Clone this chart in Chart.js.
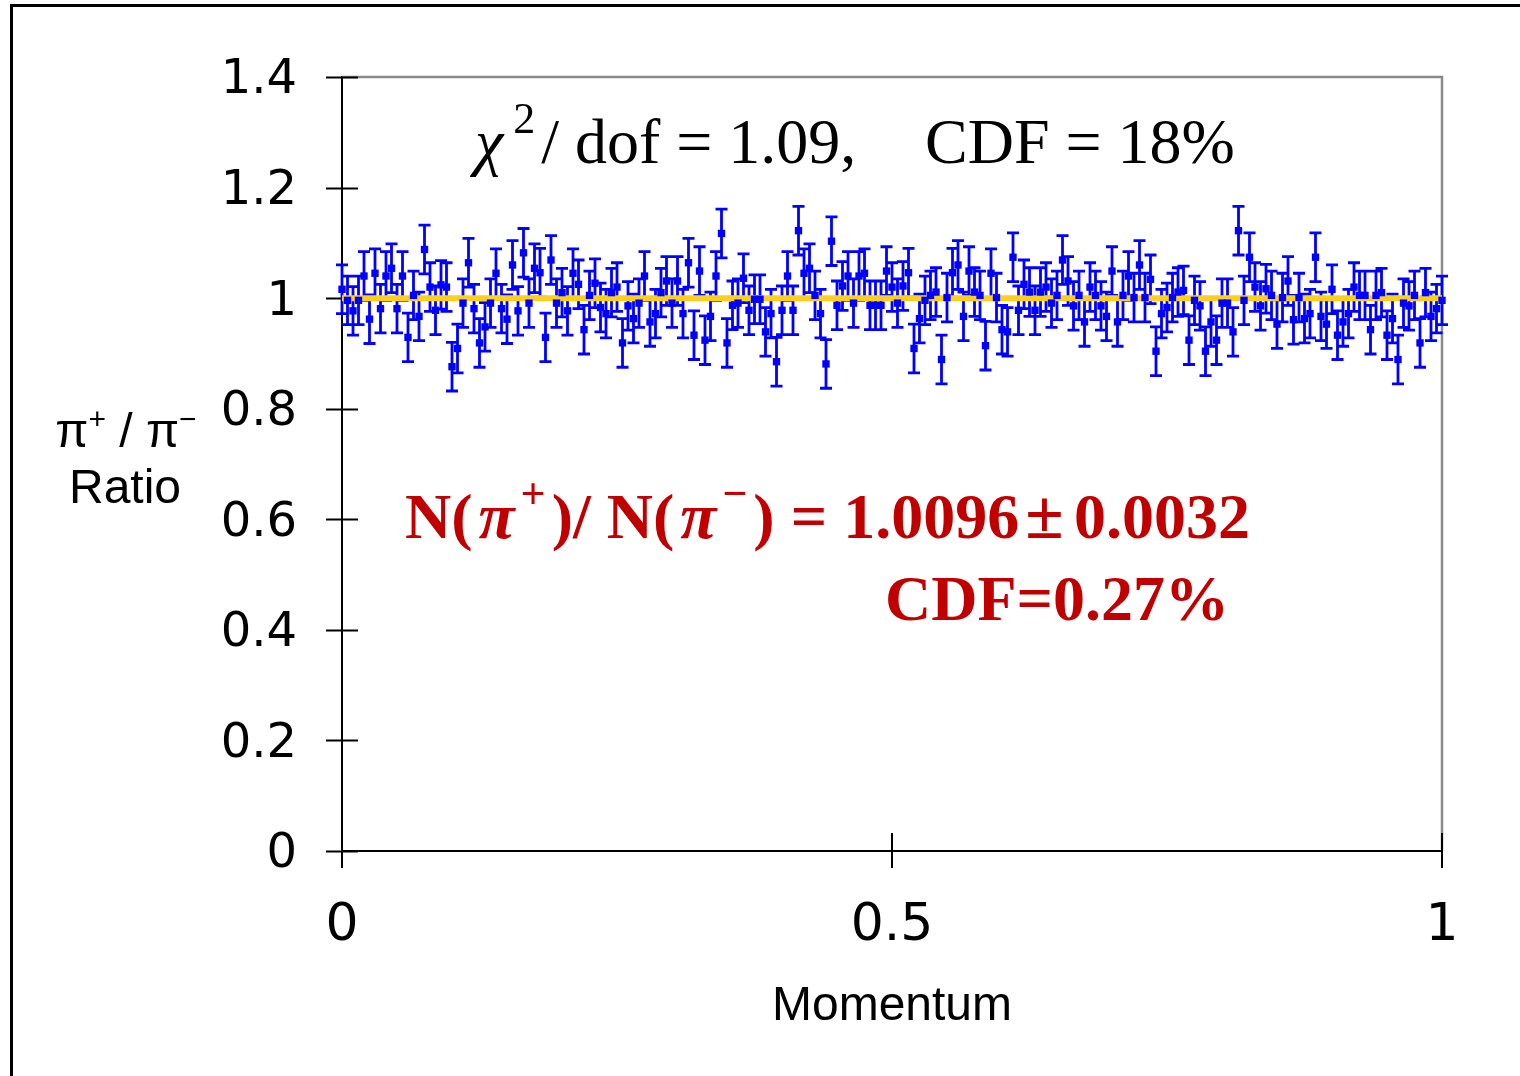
<!DOCTYPE html>
<html>
<head>
<meta charset="utf-8">
<title>Ratio π+ / π−</title>
<script src="https://cdn.jsdelivr.net/npm/chart.js@4.4.1/dist/chart.umd.min.js"></script>
<style>
  body { margin: 0; background: #ffffff; }
  canvas { display: block; }
</style>
</head>
<body>
<canvas id="myChart" width="1520" height="1076"></canvas>
<script>
//DADES
// momentum bins
let momentum = [
  0, 0.005, 0.01, 0.015, 0.02, 0.025, 0.03, 0.035, 0.04, 0.045,
  0.05, 0.055, 0.06, 0.065, 0.07, 0.075, 0.08, 0.085, 0.09, 0.095,
  0.1, 0.105, 0.11, 0.115, 0.12, 0.125, 0.13, 0.135, 0.14, 0.145,
  0.15, 0.155, 0.16, 0.165, 0.17, 0.175, 0.18, 0.185, 0.19, 0.195,
  0.2, 0.205, 0.21, 0.215, 0.22, 0.225, 0.23, 0.235, 0.24, 0.245,
  0.25, 0.255, 0.26, 0.265, 0.27, 0.275, 0.28, 0.285, 0.29, 0.295,
  0.3, 0.305, 0.31, 0.315, 0.32, 0.325, 0.33, 0.335, 0.34, 0.345,
  0.35, 0.355, 0.36, 0.365, 0.37, 0.375, 0.38, 0.385, 0.39, 0.395,
  0.4, 0.405, 0.41, 0.415, 0.42, 0.425, 0.43, 0.435, 0.44, 0.445,
  0.45, 0.455, 0.46, 0.465, 0.47, 0.475, 0.48, 0.485, 0.49, 0.495,
  0.5, 0.505, 0.51, 0.515, 0.52, 0.525, 0.53, 0.535, 0.54, 0.545,
  0.55, 0.555, 0.56, 0.565, 0.57, 0.575, 0.58, 0.585, 0.59, 0.595,
  0.6, 0.605, 0.61, 0.615, 0.62, 0.625, 0.63, 0.635, 0.64, 0.645,
  0.65, 0.655, 0.66, 0.665, 0.67, 0.675, 0.68, 0.685, 0.69, 0.695,
  0.7, 0.705, 0.71, 0.715, 0.72, 0.725, 0.73, 0.735, 0.74, 0.745,
  0.75, 0.755, 0.76, 0.765, 0.77, 0.775, 0.78, 0.785, 0.79, 0.795,
  0.8, 0.805, 0.81, 0.815, 0.82, 0.825, 0.83, 0.835, 0.84, 0.845,
  0.85, 0.855, 0.86, 0.865, 0.87, 0.875, 0.88, 0.885, 0.89, 0.895,
  0.9, 0.905, 0.91, 0.915, 0.92, 0.925, 0.93, 0.935, 0.94, 0.945,
  0.95, 0.955, 0.96, 0.965, 0.97, 0.975, 0.98, 0.985, 0.99, 0.995,
  1
];
// ratio pi+/pi- in each bin
let ratio = [
  1.016, 0.996, 0.977, 0.996, 1.040, 0.962, 1.045, 0.981, 1.040, 1.054,
  0.981, 1.040, 0.929, 1.005, 0.967, 1.088, 1.020, 0.978, 1.024, 1.020,
  0.876, 0.909, 0.991, 1.064, 0.981, 0.919, 0.948, 0.991, 1.045, 0.981,
  0.962, 1.060, 0.977, 1.082,
  0.991, 1.054, 1.046, 0.929, 1.069, 0.991, 1.010, 0.977, 1.045, 1.025,
  0.943, 1.005, 1.027, 0.983, 0.972, 1.010, 1.020, 0.919, 0.986, 0.963,
  0.991, 1.040, 0.957, 0.972, 1.010, 1.031, 0.991, 1.031, 0.972, 1.064,
  0.933, 1.049, 0.924, 0.967,
  1.040, 1.117, 0.919, 0.987, 0.991, 1.036, 0.978, 0.998, 0.998, 0.939,
  0.972, 0.885, 0.978, 1.040, 0.978, 1.122, 1.045, 1.054, 1.005, 0.972,
  0.881, 1.103, 0.987, 1.022, 1.040, 0.991, 1.040, 1.045, 0.987, 0.987,
  0.987, 1.049, 1.020, 0.991,
  1.022, 1.046, 0.909, 0.963, 0.996, 1.005, 1.011, 0.889, 1.001, 1.046,
  1.060, 0.967, 1.049, 1.011, 1.005, 0.914, 1.045, 1.001, 0.943, 0.939,
  1.074, 0.978, 1.025, 1.011, 0.978, 1.011, 1.020, 0.991, 1.005, 1.069,
  1.031, 0.986, 1.005,
  0.957, 1.020, 1.005, 0.986, 0.967, 1.049, 0.957, 1.005, 1.040, 1.001,
  1.060, 1.001, 1.034, 0.904, 0.972, 0.983, 1.001, 1.011, 1.014, 0.924,
  0.996, 0.986, 0.904, 0.957, 0.924, 0.991, 0.991, 0.939, 1.122, 0.996,
  1.074, 1.020, 0.986,
  1.017, 1.005, 0.953, 1.001, 1.031, 0.961, 1.001, 0.963, 0.972, 1.074,
  0.967, 0.953, 1.016, 0.933, 0.957, 0.972, 1.020, 1.005, 1.005, 0.943,
  1.005, 1.010, 0.933, 0.963, 0.889, 0.991, 0.986, 1.005, 0.919, 1.010,
  0.967, 0.981, 0.996
];
// statistical error of each point (all bins about the same)
let ratioError = 0.044;
// line at ratio = 1
let refX = [0, 1];
let refY = [1, 1];
// axes
let xTicks = [0, 0.5, 1];
let xTickLabels = ["0", "0.5", "1"];
let yTicks = [0, 0.2, 0.4, 0.6, 0.8, 1, 1.2, 1.4];
let yTickLabels = ["0", "0.2", "0.4", "0.6", "0.8", "1", "1.2", "1.4"];

//COLORS I FONTS
const blue = "#0000ff";
const gold = "#ffcf1f";
const red = "#c00000";
const serif = '"Liberation Serif", "Times New Roman", serif';
const sans = '"Liberation Sans", Arial, sans-serif';

Chart.defaults.font.family = '"DejaVu Sans", Verdana, sans-serif';
Chart.defaults.color = "#000";

// writes pieces of text one after the other (for super-scripts)
function drawRuns(ctx, runs, x, y) {
  runs.forEach((r) => {
    ctx.font = r.font;
    ctx.fillText(r.text, x, y + (r.dy || 0));
    x += ctx.measureText(r.text).width + (r.gap || 0);
  });
}
function runsWidth(ctx, runs) {
  let w = 0;
  runs.forEach((r) => {
    ctx.font = r.font;
    w += ctx.measureText(r.text).width + (r.gap || 0);
  });
  return w;
}

// outer frame, grey box edges, ticks crossing the axes and error bars
const decoPlugin = {
  id: "deco",
  beforeDraw(chart) {
    const ctx = chart.ctx;
    ctx.save();
    ctx.strokeStyle = "#000";
    ctx.lineWidth = 3;
    ctx.beginPath();
    ctx.moveTo(11.5, chart.height + 5);
    ctx.lineTo(11.5, 5.5);
    ctx.lineTo(chart.width + 5, 5.5);
    ctx.stroke();
    ctx.restore();
  },
  beforeDatasetsDraw(chart) {
    const { ctx, chartArea: a, scales: { x, y } } = chart;
    ctx.save();
    // grey top and right edge
    ctx.strokeStyle = "#8a8a8a";
    ctx.lineWidth = 2.5;
    ctx.beginPath();
    ctx.moveTo(a.left, a.top);
    ctx.lineTo(a.right, a.top);
    ctx.lineTo(a.right, a.bottom);
    ctx.stroke();
    // ticks
    ctx.strokeStyle = "#000";
    ctx.lineWidth = 2;
    ctx.beginPath();
    yTicks.forEach((v) => {
      const py = Math.round(y.getPixelForValue(v)) + 0.5;
      ctx.moveTo(a.left - 16, py);
      ctx.lineTo(a.left + 16, py);
    });
    xTicks.forEach((v) => {
      const px = Math.round(x.getPixelForValue(v));
      ctx.moveTo(px, a.bottom - 18);
      ctx.lineTo(px, a.bottom + 17);
    });
    ctx.stroke();
    // error bars
    ctx.strokeStyle = blue;
    ctx.lineWidth = 2.8;
    ctx.beginPath();
    momentum.forEach((m, i) => {
      const px = x.getPixelForValue(m);
      const top = y.getPixelForValue(ratio[i] + ratioError);
      const bot = y.getPixelForValue(ratio[i] - ratioError);
      ctx.moveTo(px, top);
      ctx.lineTo(px, bot);
      ctx.moveTo(px - 6, top);
      ctx.lineTo(px + 6, top);
      ctx.moveTo(px - 6, bot);
      ctx.lineTo(px + 6, bot);
    });
    ctx.stroke();
    ctx.restore();
  },
  afterDraw(chart) {
    const ctx = chart.ctx;
    ctx.save();
    ctx.textBaseline = "alphabetic";
    ctx.textAlign = "left";

    // y axis title, two lines
    ctx.fillStyle = "#000";
    const pionLine = [
      { text: "π", font: `48px ${sans}` },
      { text: "+", font: `30px ${sans}`, dy: -18 },
      { text: " / π", font: `48px ${sans}` },
      { text: "−", font: `30px ${sans}`, dy: -18 }
    ];
    drawRuns(ctx, pionLine, 126 - runsWidth(ctx, pionLine) / 2, 447);
    ctx.font = `48px ${sans}`;
    ctx.textAlign = "center";
    ctx.fillText("Ratio", 125, 503);
    ctx.textAlign = "left";

    // fit quality
    drawRuns(ctx, [
      { text: "χ", font: `italic 64px ${serif}`, gap: 10 },
      { text: "2", font: `44px ${serif}`, dy: -30, gap: 6 },
      { text: "/ dof = 1.09,", font: `64px ${serif}` }
    ], 475, 163);
    ctx.font = `64px ${serif}`;
    ctx.fillText("CDF = 18%", 925, 163);

    // total ratio
    ctx.fillStyle = red;
    const b = `bold 64px ${serif}`;
    const bi = `bold italic 66px ${serif}`;
    const bs = `bold 44px ${serif}`;
    drawRuns(ctx, [
      { text: "N(", font: b, gap: 6 },
      { text: "π", font: bi, gap: 6 },
      { text: "+", font: bs, dy: -30, gap: 6 },
      { text: ")/ N(", font: b, gap: 6 },
      { text: "π", font: bi, gap: 6 },
      { text: "−", font: bs, dy: -30, gap: 6 },
      { text: ") = 1.0096", font: b, gap: 6 },
      { text: "±", font: `bold 70px ${serif}`, gap: 6 }
    ], 405, 538);
    ctx.font = b;
    ctx.textAlign = "right";
    ctx.fillText("0.0032", 1250, 538);
    ctx.textAlign = "left";
    ctx.fillText("CDF=0.27%", 885, 620);
    ctx.restore();
  }
};

const ctx = document.getElementById("myChart").getContext("2d");

const myChart = new Chart(ctx, {
  type: "scatter",
  data: {
    datasets: [
      {
        type: "line",
        label: "ratio = 1",
        data: refX.map((v, i) => ({ x: v, y: refY[i] })),
        borderColor: gold,
        borderWidth: 6,
        pointRadius: 0,
        order: 2
      },
      {
        label: "π+ / π−",
        data: momentum.map((m, i) => ({ x: m, y: ratio[i] })),
        backgroundColor: blue,
        borderColor: blue,
        borderWidth: 0,
        pointStyle: "rect",
        pointRadius: 5.2,
        clip: false,
        order: 1
      }
    ]
  },
  options: {
    responsive: false,
    animation: false,
    devicePixelRatio: 1,
    layout: { padding: { top: 77, right: 78, left: 0, bottom: 0 } },
    plugins: {
      legend: { display: false },
      tooltip: { enabled: false }
    },
    scales: {
      x: {
        type: "linear",
        min: 0,
        max: 1,
        afterBuildTicks: (scale) => { scale.ticks = xTicks.map((v) => ({ value: v })); },
        afterFit: (scale) => { scale.height = 225; },
        grid: { drawOnChartArea: false, drawTicks: false },
        border: { color: "#000", width: 2 },
        ticks: {
          padding: 44,
          font: { size: 52 },
          callback: (v, i) => xTickLabels[i]
        },
        title: {
          display: true,
          text: "Momentum",
          font: { family: sans, size: 48 },
          padding: { top: 0, bottom: 40 }
        }
      },
      y: {
        type: "linear",
        min: 0,
        max: 1.4,
        afterBuildTicks: (scale) => { scale.ticks = yTicks.map((v) => ({ value: v })); },
        afterFit: (scale) => { scale.width = 342; },
        grid: { drawOnChartArea: false, drawTicks: false },
        border: { color: "#000", width: 2 },
        ticks: {
          padding: 45,
          labelOffset: 4,
          font: { size: 48 },
          callback: (v, i) => yTickLabels[i]
        }
      }
    }
  },
  plugins: [decoPlugin]
});
</script>
</body>
</html>
